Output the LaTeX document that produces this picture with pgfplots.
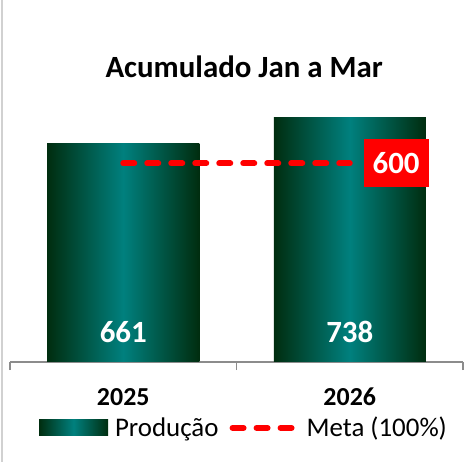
\documentclass[border=0pt]{standalone}
\usepackage{pgfplots}
\pgfplotsset{compat=1.18}
\usepackage{fontspec}
\setmainfont{Carlito}
\definecolor{dk}{RGB}{0,45,15}
\definecolor{tl}{RGB}{0,128,126}
\definecolor{axgray}{RGB}{140,140,140}
\begin{document}
\begin{tikzpicture}
\useasboundingbox (0,0) rectangle (469bp,462bp);
\draw[black!18, line width=2bp] (2bp,0) -- (2bp,462bp);
\begin{axis}[
  at={(10bp,100bp)}, anchor=south west,
  scale only axis, width=453bp, height=362bp,
  xmin=-0.5, xmax=1.5, ymin=0, ymax=1093,
  axis y line=none, axis x line*=bottom,
  x axis line style={axgray, line width=1.5bp},
  xtick={0,1}, xticklabels={2025,2026}, major tick length=0pt,
  minor xtick={-0.5,0.5,1.5}, minor tick length=8bp, tick align=outside,
  minor tick style={axgray, line width=1.5bp},
  xticklabel style={font=\bfseries\fontsize{26}{26}\selectfont, anchor=base, yshift=-44bp},
  ytick=\empty,
  clip=false,
  title={Acumulado Jan a Mar},
  title style={at={(0.517,0.768)}, anchor=base, font=\bfseries\fontsize{31}{31}\selectfont},
  legend style={draw=none, fill=none, at={(0.522,-0.182)}, anchor=center, legend columns=2,
    font=\fontsize{27}{27}\selectfont, nodes={inner xsep=7bp, inner ysep=0pt},
    /tikz/every even column/.style={column sep=4bp}},
  cyl/.style={ybar, bar width=152bp, bar shift=0pt, draw=none, left color=dk, right color=dk, middle color=tl},
]
\addplot[cyl,
  legend image code/.code={\fill[left color=dk,right color=dk,middle color=tl] (0bp,-8bp) rectangle (69bp,8bp);}]
  coordinates {(0,661)};
\addlegendentry{Produção}
\addplot[cyl, forget plot] coordinates {(1,738)};
\addplot[red, line width=6bp, dash pattern=on 11bp off 13bp, line cap=round,
  legend image code/.code={\draw[red, line width=6bp, dash pattern=on 11bp off 13bp, line cap=round] (3bp,0bp) -- (62bp,0bp); \path (67bp,0bp);}]
  coordinates {(0,600) (1,600)};
\addlegendentry{Meta (100\%)}
\addplot[draw=none, forget plot, nodes near coords, point meta=explicit symbolic,
  every node near coord/.style={anchor=center, text=white, font=\bfseries\fontsize{31}{31}\selectfont}]
  coordinates {(0,90)[661] (1,90)[738]};
\addplot[draw=none, forget plot, nodes near coords, point meta=explicit symbolic,
  every node near coord/.style={anchor=west, xshift=13.7bp, fill=red, text=white, inner sep=0pt,
    minimum width=65bp, minimum height=48bp, font=\bfseries\fontsize{31}{31}\selectfont}]
  coordinates {(1,600)[600]};
\end{axis}
\end{tikzpicture}
\end{document}
